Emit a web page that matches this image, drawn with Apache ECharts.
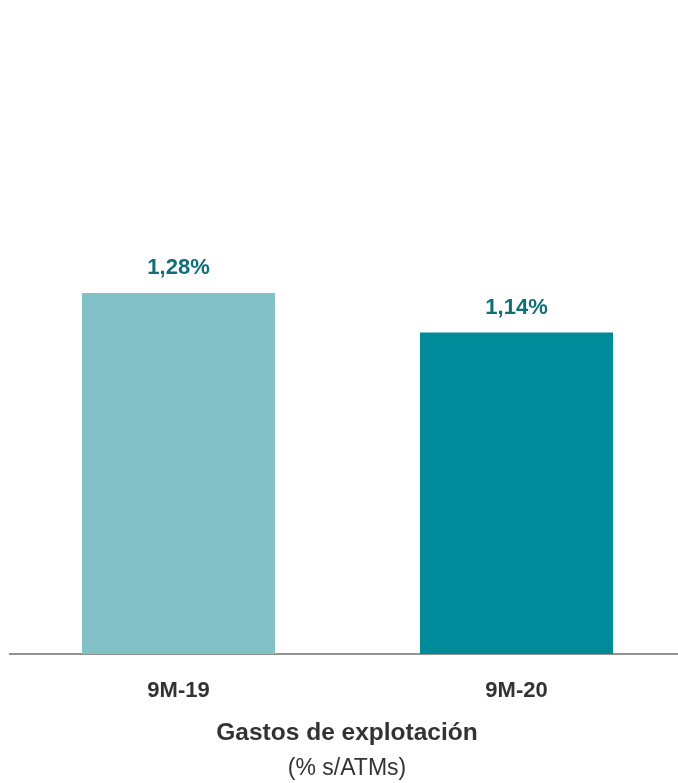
<!DOCTYPE html>
<html>
<head>
<meta charset="utf-8">
<script src="https://cdn.jsdelivr.net/npm/echarts@6/dist/echarts.min.js"></script>
<style>
html,body{margin:0;padding:0;background:#fff;overflow:hidden;}
#c{width:686px;height:783px;}
</style>
</head>
<body>
<div id="c"></div>
<script>
var categories = ['9M-19', '9M-20'];
var values = [1.28, 1.14];
var barColors = ['#83c1c9', '#008b9b'];
var titleText = 'Gastos de explotación';
var subtitleText = '(% s/ATMs)';

var FONT = '"Liberation Sans Narrow", "Arial Narrow", "Liberation Sans", Arial, sans-serif';
var chart = echarts.init(document.getElementById('c'));
chart.setOption({
  animation: false,
  grid: { left: 9.5, top: 90, width: 676, bottom: 129 },
  xAxis: {
    type: 'category',
    data: categories,
    axisLine: { lineStyle: { color: '#6f6f6f', width: 1.5 } },
    axisTick: { show: false },
    axisLabel: { margin: 26, color: '#333333', fontFamily: FONT, fontWeight: 'bold', fontSize: 22 }
  },
  yAxis: {
    type: 'value', min: 0, max: 2,
    show: false, splitLine: { show: false }
  },
  series: [{
    type: 'bar',
    barWidth: 193,
    data: values.map(function (v, i) { return { value: v, itemStyle: { color: barColors[i] } }; }),
    label: {
      show: true, position: 'top', distance: 14,
      color: '#0f6e78', fontFamily: FONT, fontWeight: 'bold', fontSize: 22,
      formatter: function (p) { return p.value.toFixed(2).replace('.', ',') + '%'; }
    }
  }],
  title: [
    { text: titleText, left: 342, top: 716, textAlign: 'center',
      textStyle: { color: '#333333', fontFamily: FONT, fontWeight: 'bold', fontSize: 24.5 } },
    { text: subtitleText, left: 342, top: 752, textAlign: 'center',
      textStyle: { color: '#333333', fontFamily: FONT, fontWeight: 'normal', fontSize: 23 } }
  ]
});
</script>
</body>
</html>
